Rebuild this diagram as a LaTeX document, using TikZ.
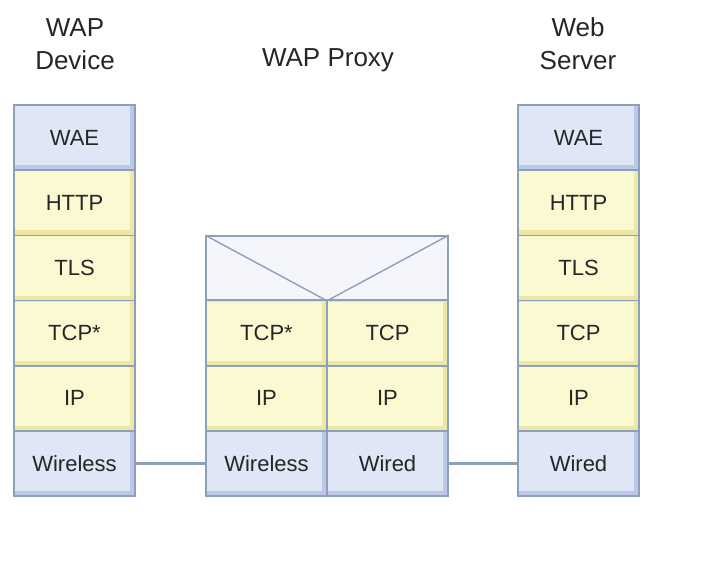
\documentclass[tikz,border=0pt]{standalone}
\usepackage{fontspec}
\setmainfont{Liberation Sans}
\begin{document}
\begin{tikzpicture}[x=1pt,y=-1pt]
\definecolor{bd}{HTML}{8E9FBC}
\definecolor{blight}{HTML}{DFE6F6}
\definecolor{bdark}{HTML}{BCC8EA}
\definecolor{ylight}{HTML}{FBF9D2}
\definecolor{ydark}{HTML}{ECE7A6}
\definecolor{toplight}{HTML}{F4F6FC}
\tikzset{
  cellbase/.style={draw=bd, line width=1.6pt, inner sep=0pt, minimum height=65.2pt,
    font=\fontsize{22}{24}\selectfont, text=black!85},
  bcell/.style={cellbase, fill=bdark, path picture={\fill[blight]
    ([shift={(1pt,-1pt)}]path picture bounding box.north west) rectangle
    ([shift={(-5pt,5pt)}]path picture bounding box.south east);}},
  ycell/.style={cellbase, fill=ydark, path picture={\fill[ylight]
    ([shift={(1pt,-1pt)}]path picture bounding box.north west) rectangle
    ([shift={(-5pt,5pt)}]path picture bounding box.south east);}},
  title/.style={font=\fontsize{26}{33}\selectfont, align=center, text=black!85},
  link/.style={draw=bd, line width=2.6pt},
}
\useasboundingbox (0,0) rectangle (720,585);
% titles
\node[title] (tDev) at (75,44) {WAP\\Device};
\node[title] (tProxy) at (328,60) {WAP Proxy};
\node[title] (tSrv) at (578,44) {Web\\Server};
% left stack
\node[bcell, minimum width=121pt] (dWAE) at (74.5,137.6) {WAE};
\node[ycell, minimum width=121pt] (dHTTP) at (74.5,202.8) {HTTP};
\node[ycell, minimum width=121pt] (dTLS) at (74.5,268) {TLS};
\node[ycell, minimum width=121pt] (dTCP) at (74.5,333.2) {TCP*};
\node[ycell, minimum width=121pt] (dIP) at (74.5,398.4) {IP};
\node[bcell, minimum width=121pt] (dW) at (74.5,463.5) {Wireless};
% right stack
\node[bcell, minimum width=121pt] (sWAE) at (578.5,137.6) {WAE};
\node[ycell, minimum width=121pt] (sHTTP) at (578.5,202.8) {HTTP};
\node[ycell, minimum width=121pt] (sTLS) at (578.5,268) {TLS};
\node[ycell, minimum width=121pt] (sTCP) at (578.5,333.2) {TCP};
\node[ycell, minimum width=121pt] (sIP) at (578.5,398.4) {IP};
\node[bcell, minimum width=121pt] (sW) at (578.5,463.5) {Wired};
% proxy
\node[cellbase, fill=toplight, minimum width=242pt, minimum height=64pt] (pTop) at (327,268) {};
\draw[draw=bd, line width=1.4pt] (pTop.north west) -- (pTop.south) -- (pTop.north east);
\node[ycell, minimum width=121pt] (pTCPa) at (266.5,333.2) {TCP*};
\node[ycell, minimum width=121pt] (pTCPb) at (387.5,333.2) {TCP};
\node[ycell, minimum width=121pt] (pIPa) at (266.5,398.4) {IP};
\node[ycell, minimum width=121pt] (pIPb) at (387.5,398.4) {IP};
\node[bcell, minimum width=121pt] (pWl) at (266.5,463.5) {Wireless};
\node[bcell, minimum width=121pt] (pWd) at (387.5,463.5) {Wired};
% links
\draw[link] (dW.east) -- (pWl.west);
\draw[link] (pWd.east) -- (sW.west);
\end{tikzpicture}
\end{document}
